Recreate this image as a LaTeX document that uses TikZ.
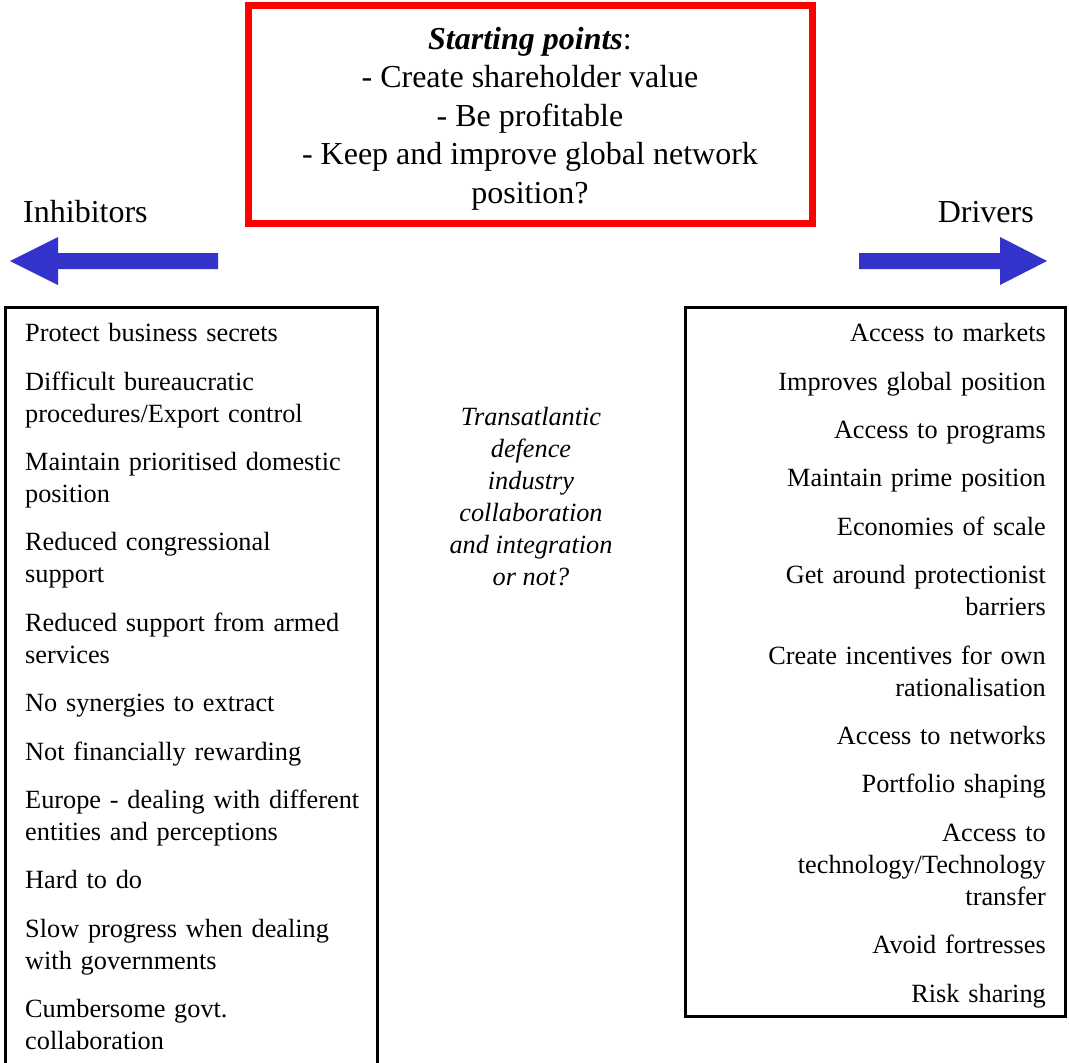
\documentclass[tikz,border=0pt]{standalone}
\usepackage{fontspec}
\setmainfont{Liberation Serif}
\usetikzlibrary{positioning}

\definecolor{framered}{RGB}{255,0,0}
\definecolor{arrowblue}{RGB}{51,51,204}
\newcommand{\itemsize}{\fontsize{26.3}{32}\selectfont}
\newcommand{\headsize}{\fontsize{32}{38.5}\selectfont}

\begin{document}
\begin{tikzpicture}[x=1pt,y=-1pt,
	inhib/.style={font=\itemsize, text width=350pt, align=left, inner sep=0pt,
		execute at begin node=\strut, execute at end node=\strut},
	driver/.style={inhib, align=right},
	heading/.style={font=\headsize, inner sep=0pt},
	box/.style={draw=black, line width=3pt},
	bigarrow/.style={fill=arrowblue, draw=none}]
	\useasboundingbox (0,0) rectangle (1069,1063);

	% starting points
	\draw[framered, line width=7pt] (248.5,5.5) rectangle (812.5,223.5);
	\node[heading, align=center, execute at begin node=\strut, execute at end node=\strut] (start) at (530,121)
		{\textbf{\textit{Starting points}}:\\- Create shareholder value\\- Be profitable\\- Keep and improve global network\\position?};

	\node[heading, anchor=base west] (inhibitors) at (23,222) {Inhibitors};
	\node[heading, anchor=base east] (drivers) at (1034,222) {Drivers};

	% arrows
	\path[bigarrow] (218,253) -- (58,253) -- (58,237) -- (10,261) -- (58,285) -- (58,269) -- (218,269) -- cycle;
	\path[bigarrow] (859,253) -- (1000,253) -- (1000,237) -- (1047,261) -- (1000,285) -- (1000,269) -- (859,269) -- cycle;

	% boxes
	\draw[box] (5.5,1075) -- (5.5,307.5) -- (377.5,307.5) -- (377.5,1075);
	\draw[box] (685.5,307.5) rectangle (1065.5,1016.5);

	% inhibitors
	\node[inhib, anchor=north west] (l1) at (25,319) {Protect business secrets};
	\node[inhib] (l2) [below=16pt of l1] {Difficult bureaucratic\\procedures/Export control};
	\node[inhib] (l3) [below=16pt of l2] {Maintain prioritised domestic\\position};
	\node[inhib] (l4) [below=16pt of l3] {Reduced congressional\\support};
	\node[inhib] (l5) [below=16pt of l4] {Reduced support from armed\\services};
	\node[inhib] (l6) [below=16pt of l5] {No synergies to extract};
	\node[inhib] (l7) [below=16pt of l6] {Not financially rewarding};
	\node[inhib] (l8) [below=16pt of l7] {Europe - dealing with different\\entities and perceptions};
	\node[inhib] (l9) [below=16pt of l8] {Hard to do};
	\node[inhib] (l10) [below=16pt of l9] {Slow progress when dealing\\with governments};
	\node[inhib] (l11) [below=16pt of l10] {Cumbersome govt.\\collaboration};

	% drivers
	\node[driver, anchor=north east] (r1) at (1046,319) {Access to markets};
	\node[driver] (r2) [below=16pt of r1] {Improves global position};
	\node[driver] (r3) [below=16pt of r2] {Access to programs};
	\node[driver] (r4) [below=16pt of r3] {Maintain prime position};
	\node[driver] (r5) [below=16pt of r4] {Economies of scale};
	\node[driver] (r6) [below=16pt of r5] {Get around protectionist\\barriers};
	\node[driver] (r7) [below=16pt of r6] {Create incentives for own\\rationalisation};
	\node[driver] (r8) [below=16pt of r7] {Access to networks};
	\node[driver] (r9) [below=16pt of r8] {Portfolio shaping};
	\node[driver] (r10) [below=16pt of r9] {Access to\\technology/Technology\\transfer};
	\node[driver] (r11) [below=16pt of r10] {Avoid fortresses};
	\node[driver] (r12) [below=16pt of r11] {Risk sharing};

	% question in the middle
	\node[font=\itemsize\itshape, align=center, inner sep=0pt,
		execute at begin node=\strut, execute at end node=\strut] (question) at (531,501)
		{Transatlantic\\defence\\industry\\collaboration\\and integration\\or not?};
\end{tikzpicture}
\end{document}
